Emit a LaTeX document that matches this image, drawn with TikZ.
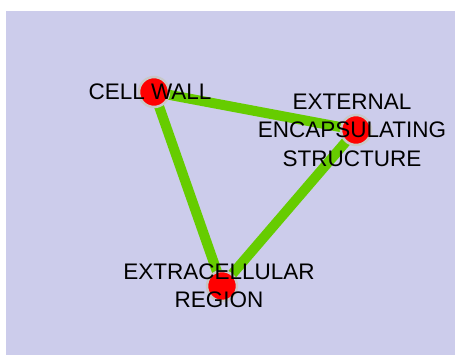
\documentclass[tikz,border=0pt]{standalone}
\usepackage{fontspec}
\setmainfont{Liberation Sans}
\definecolor{bgcol}{RGB}{204,204,235}
\definecolor{edgecol}{RGB}{102,204,0}
\definecolor{halo}{RGB}{200,200,200}
\tikzset{
    term/.style={circle, fill=red, draw=halo, line width=2.5pt, minimum size=30pt, inner sep=0pt},
    termlabel/.style={align=center, text=black, font=\fontsize{22.5}{28.5}\selectfont, inner sep=0pt},
    link/.style={edgecol, line width=10pt}
}
\begin{document}
\begin{tikzpicture}[x=1pt,y=1pt]
    \useasboundingbox (0,0) rectangle (455,355);
    \fill[bgcol] (6,0) rectangle (455,344);
    \coordinate (wall) at (154,263);
    \coordinate (encaps) at (356,225);
    \coordinate (extra) at (222,69);
    \foreach \a/\b in {wall/encaps, wall/extra, encaps/extra} {
            \draw[link] (\a) -- (\b);
        }
    \foreach \c in {wall, encaps, extra} {
            \node[term] (\c-dot) at (\c) {};
        }
    \node[termlabel, xshift=-4pt] (wall-text) at (wall) {CELL WALL};
    \node[termlabel, xshift=-4pt] (encaps-text) at (encaps) {EXTERNAL\\ENCAPSULATING\\STRUCTURE};
    \node[termlabel, xshift=-3pt] (extra-text) at (extra) {EXTRACELLULAR\\REGION};
\end{tikzpicture}
\end{document}
